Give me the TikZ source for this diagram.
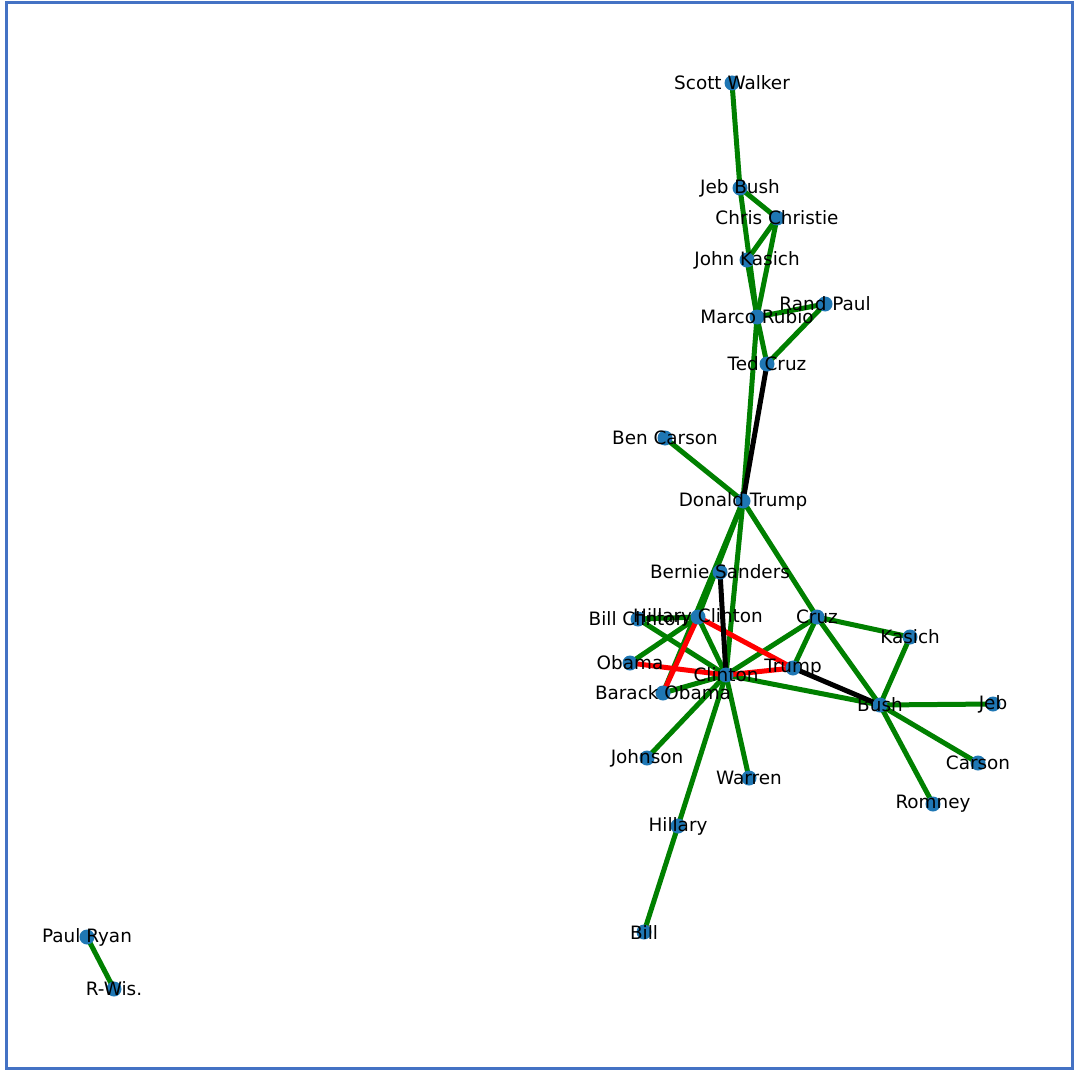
\documentclass[tikz,border=0pt]{standalone}
\usepackage{fontspec}
\setmainfont{DejaVu Sans}
\definecolor{dotblue}{HTML}{1F77B4}
\definecolor{frameblue}{HTML}{4472C4}
\definecolor{egreen}{RGB}{0,128,0}
\begin{document}
\begin{tikzpicture}[x=1pt,y=-1pt,
  dot/.style={circle,fill=dotblue,inner sep=0pt,minimum size=15pt},
  lbl/.style={font=\fontsize{18.4}{20}\selectfont,inner sep=0pt,anchor=center},
  posedge/.style={line width=5pt,egreen},
  negedge/.style={line width=5pt,red},
  neuedge/.style={line width=5pt,black}]
\useasboundingbox (0,0) rectangle (1075,1075);
\draw[frameblue,line width=3pt] (6,2.5) rectangle (1072,1068);
% coordinates
\coordinate (sw) at (732,83);
\coordinate (jbush) at (740,188);
\coordinate (cc) at (777,218);
\coordinate (jk) at (747,260);
\coordinate (rp) at (825,304);
\coordinate (mr) at (757,317);
\coordinate (tc) at (767,364);
\coordinate (bc) at (665,438);
\coordinate (dt) at (743,501);
\coordinate (bs) at (720,572);
\coordinate (billc) at (638,619);
\coordinate (hc) at (698,617);
\coordinate (cruz) at (817,617);
\coordinate (kasich) at (910,637);
\coordinate (obama) at (630,663);
\coordinate (trump) at (793,668);
\coordinate (clinton) at (726,675);
\coordinate (bo) at (663,693);
\coordinate (bush) at (880,705);
\coordinate (jeb) at (993,704);
\coordinate (johnson) at (647,758);
\coordinate (warren) at (749,778);
\coordinate (carson) at (978,763);
\coordinate (romney) at (933,804);
\coordinate (hillary) at (678,826);
\coordinate (bill) at (644,932);
\coordinate (pr) at (87,937);
\coordinate (rw) at (114,989);
% green edges
\draw[posedge] (sw) -- (jbush);
\draw[posedge] (jbush) -- (cc);
\draw[posedge] (jbush) -- (mr);
\draw[posedge] (jk) -- (mr);
\draw[posedge] (cc) -- (jk);
\draw[posedge] (cc) -- (mr);
\draw[posedge] (mr) -- (rp);
\draw[posedge] (rp) -- (tc);
\draw[posedge] (mr) -- (tc);
\draw[posedge] (mr) -- (dt);
\draw[posedge] (bc) -- (dt);
\draw[posedge] (dt) -- (hc);
\draw[posedge] (dt) -- (bo);
\draw[posedge] (dt) -- (clinton);
\draw[posedge] (dt) -- (cruz);
\draw[posedge] (billc) -- (hc);
\draw[posedge] (billc) -- (clinton);
\draw[posedge] (obama) -- (hc);
\draw[posedge] (hc) -- (clinton);
\draw[posedge] (bo) -- (clinton);
\draw[posedge] (clinton) -- (cruz);
\draw[posedge] (clinton) -- (bush);
\draw[posedge] (clinton) -- (johnson);
\draw[posedge] (clinton) -- (warren);
\draw[posedge] (clinton) -- (hillary);
\draw[posedge] (hillary) -- (bill);
\draw[posedge] (cruz) -- (trump);
\draw[posedge] (cruz) -- (kasich);
\draw[posedge] (cruz) -- (bush);
\draw[posedge] (kasich) -- (bush);
\draw[posedge] (bush) -- (jeb);
\draw[posedge] (bush) -- (carson);
\draw[posedge] (bush) -- (romney);
\draw[posedge] (pr) -- (rw);
% red edges
\draw[negedge] (hc) -- (bo);
\draw[negedge] (hc) -- (trump);
\draw[negedge] (obama) -- (clinton);
\draw[negedge] (clinton) -- (trump);
% black edges
\draw[neuedge] (tc) -- (dt);
\draw[neuedge] (bs) -- (clinton);
\draw[neuedge] (trump) -- (bush);
% dots
\foreach \n in {sw,jbush,cc,jk,rp,mr,tc,bc,dt,bs,billc,hc,cruz,kasich,obama,trump,clinton,bo,bush,jeb,johnson,warren,carson,romney,hillary,bill,pr,rw}
  \node[dot] (d\n) at (\n) {};
% labels
\node[lbl] (lsw) at (sw) {Scott Walker};
\node[lbl] (ljbush) at (jbush) {Jeb Bush};
\node[lbl] (lcc) at (cc) {Chris Christie};
\node[lbl] (ljk) at (jk) {John Kasich};
\node[lbl] (lrp) at (rp) {Rand Paul};
\node[lbl] (lmr) at (mr) {Marco Rubio};
\node[lbl] (ltc) at (tc) {Ted Cruz};
\node[lbl] (lbc) at (bc) {Ben Carson};
\node[lbl] (ldt) at (dt) {Donald Trump};
\node[lbl] (lbs) at (bs) {Bernie Sanders};
\node[lbl] (lbillc) at (billc) {Bill Clinton};
\node[lbl] (lhc) at (hc) {Hillary Clinton};
\node[lbl] (lcruz) at (cruz) {Cruz};
\node[lbl] (lkasich) at (kasich) {Kasich};
\node[lbl] (lobama) at (obama) {Obama};
\node[lbl] (ltrump) at (trump) {Trump};
\node[lbl] (lclinton) at (clinton) {Clinton};
\node[lbl] (lbo) at (bo) {Barack Obama};
\node[lbl] (lbush) at (bush) {Bush};
\node[lbl] (ljeb) at (jeb) {Jeb};
\node[lbl] (ljohnson) at (johnson) {Johnson};
\node[lbl] (lwarren) at (warren) {Warren};
\node[lbl] (lcarson) at (carson) {Carson};
\node[lbl] (lromney) at (romney) {Romney};
\node[lbl] (lhillary) at (hillary) {Hillary};
\node[lbl] (lbill) at (bill) {Bill};
\node[lbl] (lpr) at (pr) {Paul Ryan};
\node[lbl] (lrw) at (rw) {R-Wis.};
\end{tikzpicture}
\end{document}
